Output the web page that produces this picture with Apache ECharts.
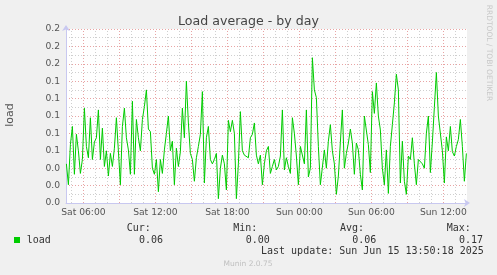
<!DOCTYPE html>
<html><head><meta charset="utf-8">
<script src="https://cdn.jsdelivr.net/npm/echarts@6/dist/echarts.min.js"></script>
<style>html,body{margin:0;padding:0;background:#f0f0f0;}#c{width:497px;height:275px;}</style>
</head><body><div id="c"></div>
<script>
// hours counted from Sat 00:00; samples every 10 minutes
const startHour = 4 + 35/60;
const stepHour = 10/60;
const loadValues = [
0.045,0.021,0.067,0.088,0.033,0.079,0.060,0.034,0.050,0.109,
0.065,0.052,0.098,0.050,0.070,0.075,0.107,0.050,0.086,0.042,
0.060,0.031,0.057,0.042,0.063,0.098,0.096,0.021,0.088,0.109,
0.075,0.061,0.033,0.117,0.033,0.096,0.075,0.060,0.096,0.111,
0.130,0.085,0.082,0.040,0.033,0.050,0.013,0.050,0.034,0.061,
0.080,0.100,0.060,0.071,0.021,0.063,0.042,0.059,0.109,0.075,
0.140,0.092,0.057,0.050,0.025,0.052,0.065,0.079,0.128,0.023,
0.075,0.088,0.050,0.045,0.050,0.057,0.005,0.040,0.055,0.045,
0.015,0.095,0.082,0.095,0.080,0.005,0.045,0.105,0.060,0.055,
0.055,0.052,0.075,0.079,0.092,0.055,0.045,0.055,0.021,0.045,
0.060,0.065,0.034,0.042,0.050,0.038,0.042,0.054,0.107,0.038,
0.052,0.042,0.034,0.098,0.080,0.054,0.021,0.065,0.065,0.045,
0.107,0.030,0.040,0.167,0.130,0.121,0.065,0.021,0.021,0.061,
0.040,0.071,0.090,0.060,0.045,0.010,0.031,0.070,0.107,0.040,
0.057,0.069,0.085,0.069,0.033,0.069,0.061,0.033,0.015,0.100,
0.100,0.067,0.035,0.128,0.103,0.138,0.100,0.084,0.040,0.021,
0.061,0.011,0.065,0.090,0.115,0.148,0.130,0.023,0.071,0.025,
0.010,0.054,0.050,0.075,0.045,0.021,0.050,0.050,0.045,0.040,
0.080,0.100,0.035,0.070,0.110,0.150,0.100,0.100,0.060,0.023,
0.076,0.060,0.088,0.059,0.054,0.065,0.073,0.096,0.065,0.025,
0.057
];
const xLabelHours = [6, 12, 18, 24, 30, 36];
const xLabelTexts = ['Sat 06:00','Sat 12:00','Sat 18:00','Sun 00:00','Sun 06:00','Sun 12:00'];
const gridHours = [];
for (let h = 5; h <= 37; h++) gridHours.push(h);
const legendHeaders = ['Cur:','Min:','Avg:','Max:'];
const legendValues = ['0.06','0.00','0.06','0.17'];

const seriesData = loadValues.map((v, i) => [startHour + i * stepHour, v]);

const chart = echarts.init(document.getElementById('c'), null, {renderer: 'canvas'});
const mono = 'DejaVu Sans Mono';
const sans = 'DejaVu Sans';
const txtColor = '#333';

const headerX = [126.7, 233.3, 340, 446.7];
const valueX = [139, 245.7, 352.3, 459];
const graphics = [
  {type:'rect', shape:{x:14,y:237,width:6,height:6}, style:{fill:'#00cc00'}},
  {type:'text', x:26.7, y:240, style:{text:'load', font:'10px '+mono, fill:txtColor, verticalAlign:'middle'}},
  {type:'text', x:261, y:251, style:{text:'Last update: Sun Jun 15 13:50:18 2025', font:'10px '+mono, fill:txtColor, verticalAlign:'middle'}},
  {type:'text', x:248, y:264, style:{text:'Munin 2.0.75', font:'7.5px '+sans, fill:'#c0c0c0', align:'center', verticalAlign:'middle'}},
  {type:'text', x:10, y:115, rotation:Math.PI/2, style:{text:'load', font:'11px '+sans, fill:'#555', align:'center', verticalAlign:'middle'}},
  {type:'text', x:489, y:53, rotation:-Math.PI/2, style:{text:'RRDTOOL / TOBI OETIKER', font:'7.5px '+sans, fill:'#c8c8c8', align:'center', verticalAlign:'middle'}}
];
legendHeaders.forEach((t, i) => graphics.push({type:'text', x:headerX[i], y:228, style:{text:t, font:'10px '+mono, fill:txtColor, verticalAlign:'middle'}}));
legendValues.forEach((t, i) => graphics.push({type:'text', x:valueX[i], y:240, style:{text:t, font:'10px '+mono, fill:txtColor, verticalAlign:'middle'}}));

const vGrid = gridHours.map(h => ({
  xAxis: h,
  lineStyle: {color: h % 3 === 0 ? '#e8a4a4' : '#cfcfcf', type: [1, 2], width: 1}
}));

chart.setOption({
  backgroundColor: '#f0f0f0',
  animation: false,
  title: {text: 'Load average - by day', left: 'center', top: 10,
    textStyle: {fontFamily: sans, fontSize: 12.6, fontWeight: 'normal', color: '#444'}},
  grid: {left: 66, right: 30, top: 29, bottom: 72, show: true, backgroundColor: '#fff', borderWidth: 0},
  xAxis: {
    type: 'value', min: 4.55, max: 37.97,
    splitLine: {show: false},
    axisLine: {show: true, lineStyle: {color: '#c8c8f0', width: 1}, symbol: ['none','arrow'], symbolSize: [6, 6], symbolOffset: [0, 3]},
    axisTick: {show: false},
    axisLabel: {
      customValues: xLabelHours,
      formatter: v => xLabelTexts[xLabelHours.indexOf(Math.round(v))] || '',
      fontFamily: sans, fontSize: 9.2, color: '#555', margin: 5
    }
  },
  yAxis: {
    type: 'value', min: 0, max: 0.2, interval: 0.02,
    axisLine: {show: true, lineStyle: {color: '#c8c8f0', width: 1}, symbol: ['none','arrow'], symbolSize: [6, 6], symbolOffset: [0, 4]},
    axisTick: {show: false},
    splitLine: {show: true, lineStyle: {color: '#e8a4a4', type: [1, 2], width: 1}},
    minorTick: {show: false, splitNumber: 2},
    minorSplitLine: {show: true, lineStyle: {color: '#cfcfcf', type: [1, 2], width: 1}},
    axisLabel: {formatter: v => v.toFixed(1), fontFamily: sans, fontSize: 9.2, color: '#555', margin: 6}
  },
  series: [
    {type: 'line', data: [], z: 1, silent: true,
     markLine: {silent: true, symbol: ['none','none'], label: {show: false}, data: vGrid, animation: false}},
    {type: 'line', data: seriesData, z: 5, showSymbol: false, symbol: 'none',
     lineStyle: {color: '#00cc00', width: 1}, itemStyle: {color: '#00cc00'}}
  ],
  graphic: graphics
});
</script>
</body></html>
